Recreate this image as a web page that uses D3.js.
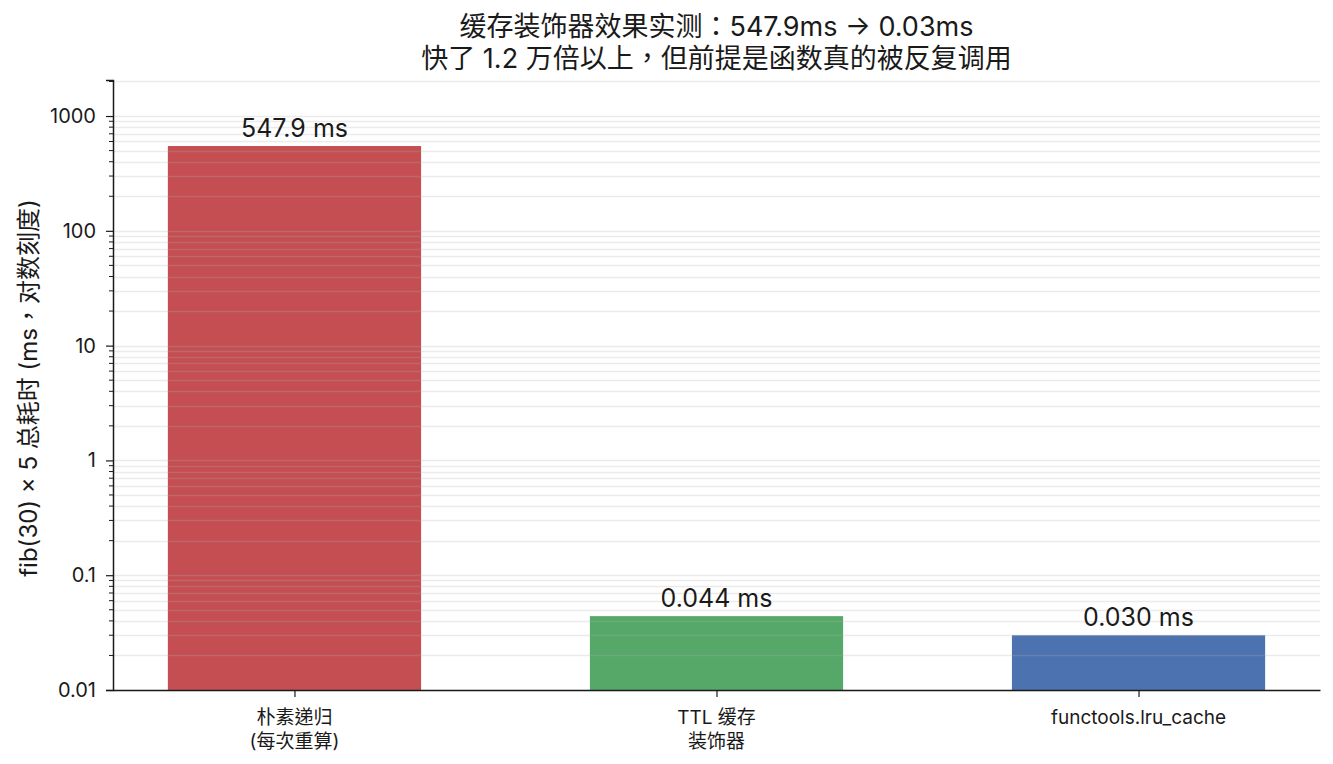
<!DOCTYPE html>
<html>
<head>
<meta charset="utf-8">
<script src="https://cdn.jsdelivr.net/npm/d3@7"></script>
<style>
  body { margin: 0; background: #fff; }
  text { font-family: Inter, "Noto Sans CJK TC", sans-serif; fill: #1a1a1a; }
</style>
</head>
<body>
<svg id="chart" width="1333" height="764"></svg>
<script>
var categories = [["朴素递归", "(每次重算)"], ["TTL 缓存", "装饰器"], ["functools.lru_cache"]];
var timings = [547.9, 0.044, 0.030];
var barLabels = ["547.9 ms", "0.044 ms", "0.030 ms"];
var barColors = ["#c44e52", "#55a868", "#4c72b0"];
var yTicks = [0.01, 0.1, 1, 10, 100, 1000];
var titleLines = ["缓存装饰器效果实测：547.9ms → 0.03ms", "快了 1.2 万倍以上，但前提是函数真的被反复调用"];
var yLabel = "fib(30) × 5 总耗时 (ms，对数刻度)";

var margin = {top: 80, right: 13, bottom: 74, left: 113},
    width = 1333 - margin.left - margin.right,
    height = 764 - margin.top - margin.bottom;

var svg = d3.select("#chart");
var g = svg.append("g").attr("transform", "translate(" + margin.left + "," + margin.top + ")");

// matplotlib style x limits: bars of width 0.6 with 5% margin
var x = d3.scaleLinear().domain([-0.43, categories.length - 1 + 0.43]).range([0, width]);
var y = d3.scaleLog().domain([0.01, 2060]).range([height, 0]);
var barW = x(0.6) - x(0);

// minor + major grid values
var gridVals = [];
for (var e = -2; e <= 3; e++) {
    for (var m = 1; m <= 9; m++) {
        var v = m * Math.pow(10, e);
        if (v <= y.domain()[1]) gridVals.push(v);
    }
}

g.selectAll("rect.bar").data(timings).enter().append("rect")
    .attr("class", "bar")
    .attr("x", function(d, i) { return x(i) - barW / 2; })
    .attr("y", function(d) { return y(d); })
    .attr("width", barW)
    .attr("height", function(d) { return height - y(d); })
    .attr("fill", function(d, i) { return barColors[i]; });

// grid sits above bars, semi transparent
g.selectAll("line.grid").data(gridVals).enter().append("line")
    .attr("class", "grid")
    .attr("x1", 0).attr("x2", width)
    .attr("y1", function(d) { return Math.round(y(d)) + 0.5; })
    .attr("y2", function(d) { return Math.round(y(d)) + 0.5; })
    .attr("stroke", "#b0b0b0")
    .attr("stroke-opacity", 0.25)
    .attr("stroke-width", 1.6);

g.selectAll("text.val").data(timings).enter().append("text")
    .attr("class", "val")
    .attr("x", function(d, i) { return x(i); })
    .attr("y", function(d) { return y(d) - 9; })
    .attr("text-anchor", "middle")
    .style("font-size", "25px")
    .text(function(d, i) { return barLabels[i]; });

// y axis
var yAxis = g.append("g")
    .call(d3.axisLeft(y).tickValues(yTicks).tickFormat(function(d) { return String(+d.toPrecision(1)); }).tickSize(7).tickPadding(10));
yAxis.selectAll("text").style("font-size", "20px");
var minor = gridVals.filter(function(d) { return yTicks.indexOf(d) < 0; });
yAxis.selectAll("line.minor").data(minor).enter().append("line")
    .attr("class", "minor")
    .attr("x1", -4).attr("x2", 0)
    .attr("y1", function(d) { return y(d); })
    .attr("y2", function(d) { return y(d); })
    .attr("stroke", "#1a1a1a").attr("stroke-width", 1);

// x axis
var xAxis = g.append("g").attr("transform", "translate(0," + height + ")")
    .call(d3.axisBottom(x).tickValues(d3.range(categories.length)).tickFormat("").tickSize(7).tickSizeOuter(0));
xAxis.selectAll("text.cat").data(categories).enter().append("text")
    .attr("class", "cat")
    .attr("x", function(d, i) { return x(i); })
    .attr("y", 34)
    .attr("text-anchor", "middle")
    .style("font-size", "19px")
    .selectAll("tspan").data(function(d) { return d; }).enter().append("tspan")
    .attr("x", function() { return this.parentNode.getAttribute("x"); })
    .attr("dy", function(d, i) { return i ? 24 : 0; })
    .text(function(d) { return d; });

[yAxis, xAxis].forEach(function(a) {
    a.select(".domain").attr("stroke", "#1a1a1a").attr("stroke-width", 1.5);
    a.selectAll(".tick line").attr("stroke", "#1a1a1a").attr("stroke-width", 1.2);
});

svg.append("text")
    .attr("transform", "translate(37," + (margin.top + height / 2 + 3) + ") rotate(-90)")
    .attr("text-anchor", "middle")
    .style("font-size", "24px")
    .text(yLabel);

svg.selectAll("text.title").data(titleLines).enter().append("text")
    .attr("class", "title")
    .attr("x", margin.left + width / 2)
    .attr("y", function(d, i) { return 36 + i * 32; })
    .attr("text-anchor", "middle")
    .style("font-size", "27px")
    .text(function(d) { return d; });
</script>
</body>
</html>
